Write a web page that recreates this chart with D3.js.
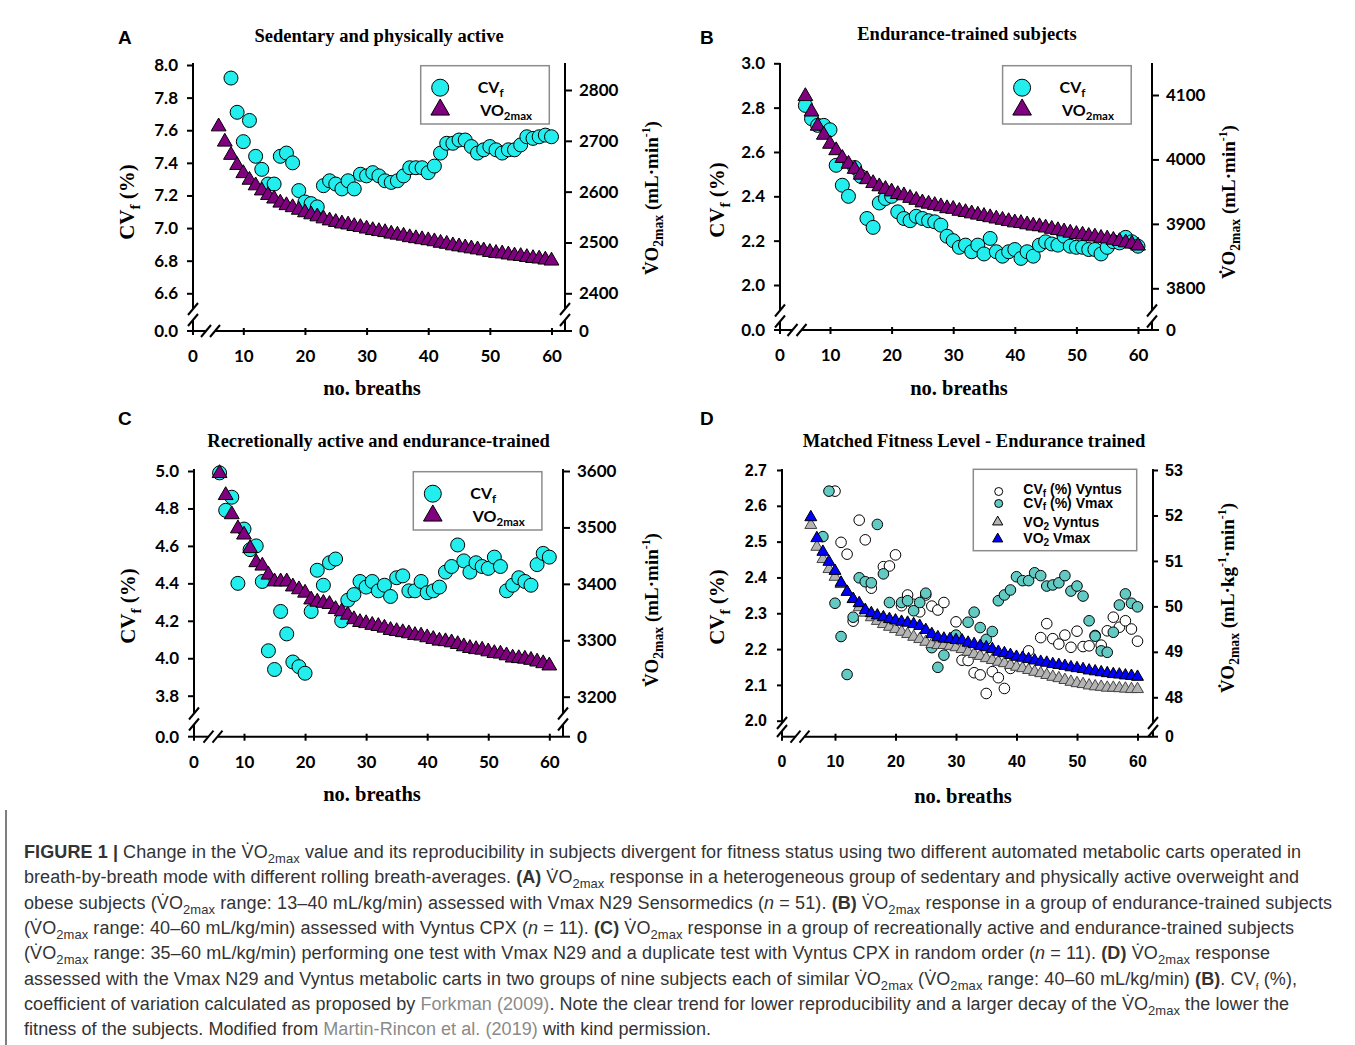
<!DOCTYPE html>
<html><head><meta charset="utf-8">
<script src="https://cdn.jsdelivr.net/npm/d3@7/dist/d3.min.js"></script>
<style>body{margin:0;background:#fff}svg{display:block}</style>
</head><body>
<svg id="fig" width="1355" height="1045"></svg>
<script>
// ---------------- DATA ----------------
const breaths6 = d3.range(6, 61);   // breath number 6..60
const breaths8 = d3.range(8, 61);   // breath number 8..60
const xTickValues = [10, 20, 30, 40, 50, 60];

// Panel A
const cvA = [7.92,7.71,7.53,7.66,7.44,7.36,7.27,7.27,7.44,7.46,7.40,7.23,7.16,7.15,7.13,7.26,7.29,7.27,7.24,7.29,
  7.24,7.33,7.32,7.34,7.32,7.29,7.28,7.29,7.32,7.37,7.37,7.37,7.34,7.38,7.46,7.52,7.52,7.54,7.54,7.50,
  7.46,7.48,7.50,7.48,7.46,7.48,7.48,7.51,7.56,7.55,7.56,7.57,7.56];            // breaths 8..60
const vo2A = [2728,2698,2672,2652,2636,2623,2612,2602,2593,2586,2578,2573,2569,2564,2559,2555,2551,2547,2543,2540,
  2537,2535,2532,2530,2527,2524,2522,2520,2517,2515,2513,2510,2508,2506,2504,2502,2499,2497,2494,2492,
  2490,2488,2486,2484,2481,2479,2478,2476,2474,2473,2471,2469,2468,2466,2464];  // breaths 6..60
const ticksA_left = [6.6,6.8,7.0,7.2,7.4,7.6,7.8,8.0];
const ticksA_right = [2400,2500,2600,2700,2800];

// Panel B
const cvB = [2.81,2.75,2.72,2.72,2.70,2.54,2.45,2.40,2.53,2.49,2.30,2.26,2.37,2.39,2.40,2.33,2.30,2.29,2.31,2.30,
  2.29,2.285,2.27,2.22,2.20,2.17,2.18,2.15,2.18,2.14,2.21,2.15,2.13,2.15,2.16,2.12,2.15,2.13,2.18,2.195,
  2.185,2.18,2.22,2.175,2.17,2.17,2.16,2.16,2.14,2.17,2.195,2.19,2.215,2.195,2.175]; // breaths 6..60
const vo2B = [4098,4074,4052,4038,4024,4014,4002,3993,3985,3976,3969,3963,3958,3954,3950,3946,3944,3940,3937,3933,
  3931,3929,3927,3924,3923,3920,3918,3916,3914,3912,3910,3908,3906,3904,3902,3901,3899,3897,3896,3894,
  3892,3890,3888,3886,3884,3883,3881,3880,3878,3877,3875,3873,3871,3869,3866];   // breaths 6..60
const ticksB_left = [2.0,2.2,2.4,2.6,2.8,3.0];
const ticksB_right = [3800,3900,4000,4100];

// Panel C
const cvC = [4.99,4.79,4.86,4.40,4.69,4.58,4.60,4.41,4.04,3.94,4.25,4.13,3.98,3.955,3.92,4.25,4.47,4.39,4.51,4.53,
  4.20,4.31,4.34,4.41,4.38,4.41,4.36,4.39,4.33,4.43,4.44,4.36,4.36,4.41,4.35,4.36,4.38,4.46,4.49,4.605,
  4.52,4.46,4.51,4.49,4.48,4.54,4.49,4.36,4.39,4.43,4.41,4.39,4.50,4.56,4.54];   // breaths 6..60
const vo2C = [3596,3557,3523,3498,3487,3463,3438,3432,3416,3404,3404,3404,3395,3390,3384,3372,3368,3366,3364,3355,
  3351,3345,3337,3332,3330,3327,3325,3322,3318,3316,3314,3312,3309,3308,3305,3302,3299,3298,3296,3293,
  3289,3286,3284,3283,3280,3277,3276,3273,3269,3268,3267,3265,3262,3259,3255];   // breaths 6..60
const ticksC_left = [3.8,4.0,4.2,4.4,4.6,4.8,5.0];
const ticksC_right = [3200,3300,3400,3500,3600];

// Panel D
const cvD_vyntus = [null,null,2.641,2.498,2.465,2.278,2.560,2.505,2.370,null,2.430,2.432,2.463,2.321,2.351,2.325,2.304,2.351,2.320,2.309,
  2.330,null,2.276,2.169,2.168,2.134,2.128,2.076,2.137,2.120,2.090,2.146,null,null,2.195,null,2.232,2.271,2.229,2.214,
  2.239,2.205,2.250,2.207,2.209,2.238,2.211,2.251,2.289,2.261,2.279,2.256,2.222];   // breaths 8..60
const cvD_vmax = [2.514,2.641,2.328,2.235,2.129,2.289,2.399,2.388,2.385,2.548,2.410,2.330,null,2.330,2.335,2.307,2.330,2.356,2.204,2.149,
  2.183,null,2.239,null,2.275,2.303,2.260,2.227,2.249,2.335,2.351,2.365,2.402,2.391,2.391,2.413,2.405,2.376,2.379,2.385,
  2.405,2.362,2.376,2.348,2.279,2.236,2.195,2.191,2.247,2.323,2.354,2.328,2.318];   // breaths 8..60
const vo2D_vyntus = [51.79,51.31,51.04,50.82,50.65,50.49,50.32,50.16,49.98,49.86,49.76,49.68,49.61,49.55,49.50,49.44,49.39,49.33,49.28,49.22,
  49.17,49.15,49.15,49.13,49.10,49.06,49.00,48.95,48.91,48.86,48.82,48.78,48.75,48.71,48.67,48.64,48.60,48.56,48.53,48.49,
  48.45,48.42,48.38,48.34,48.31,48.29,48.26,48.24,48.23,48.21,48.21,48.20,48.19,48.18,48.18]; // breaths 6..60
const vo2D_vmax = [51.96,51.50,51.20,50.98,50.78,50.52,50.32,50.16,50.07,49.92,49.85,49.80,49.76,49.72,49.69,49.66,49.64,49.61,49.57,49.48,
  49.39,49.32,49.29,49.28,49.26,49.25,49.20,49.17,49.13,49.10,49.06,49.00,48.97,48.93,48.89,48.87,48.84,48.81,48.78,48.76,
  48.73,48.71,48.69,48.66,48.64,48.62,48.59,48.57,48.55,48.53,48.51,48.50,48.48,48.47,48.45]; // breaths 6..60
const ticksD_left = [2.0,2.1,2.2,2.3,2.4,2.5,2.6,2.7];
const ticksD_right = [48,49,50,51,52,53];

// Titles / text
const panelLetters = ['A','B','C','D'];
const panelTitles = ['Sedentary and physically active','Endurance-trained subjects',
  'Recretionally active and endurance-trained','Matched Fitness Level - Endurance trained'];

// ---------------- DRAWING ----------------
const svg = d3.select('#fig');
svg.append('rect').attr('width',1355).attr('height',1045).attr('fill','#fff');

const SERIF = "'Liberation Serif','Times New Roman',serif";
const SANS = "'Liberation Sans',Arial,sans-serif";
const CALI = "Lato,'Open Sans',sans-serif";
const CYAN = '#22eeee', PURPLE = '#800080', TEAL = '#62c9c3', GRAY = '#b4b4b4', BLUE = '#0000ff';

function rich(t, parts, size) {
  let off = 0;
  parts.forEach(p => {
    const ts = t.append('tspan').text(p.t);
    let target = 0, s = size;
    if (p.sub) { target = size * (p.subShift || 0.28); s = size * (p.scale || 0.72); }
    if (p.sup) { target = -size * 0.42; s = size * 0.62; }
    ts.attr('dy', (target - off).toFixed(2)).attr('font-size', s);
    off = target;
    if (p.b) ts.attr('font-weight', 'bold');
    if (p.i) ts.attr('font-style', 'italic');
    if (p.fill) ts.attr('fill', p.fill);
  });
}

function pairs(xs, ys) { return xs.map((b, i) => [b, ys[i]]).filter(d => d[1] != null); }

function drawPanel(c) {
  const g = svg.append('g');
  const x = d3.scaleLinear().domain([10, 60]).range([c.x10, c.x60]);
  const yL = d3.scaleLinear().domain(c.lDom).range(c.lRng);
  const yR = d3.scaleLinear().domain(c.rDom).range(c.rRng);
  const tickFont = c.tickFont, tfs = c.tickSize;
  const styleAxis = ax => {
    ax.select('.domain').remove();
    ax.attr('font-family', tickFont).attr('font-size', tfs).attr('font-weight', 'bold');
    ax.selectAll('.tick text').attr('fill', '#000');
    ax.selectAll('.tick line').attr('stroke', '#000').attr('stroke-width', 2);
  };
  const axL = g.append('g').attr('transform', `translate(${c.L},0)`)
    .call(d3.axisLeft(yL).tickValues(c.lTicks).tickFormat(d3.format('.1f')).tickSize(c.tkL).tickPadding(c.padL));
  styleAxis(axL);
  const axR = g.append('g').attr('transform', `translate(${c.R},0)`)
    .call(d3.axisRight(yR).tickValues(c.rTicks).tickFormat(d3.format('d')).tickSize(c.tkR).tickPadding(c.padR));
  styleAxis(axR);
  const axX = g.append('g').attr('transform', `translate(0,${c.B})`)
    .call(d3.axisBottom(x).tickValues(xTickValues).tickFormat(d3.format('d')).tickSize(4).tickPadding(c.padX));
  styleAxis(axX);
  axX.selectAll('.tick line').attr('y1', -3).attr('y2', 4);

  // zero labels at broken origin
  const zt = (tx, ty, txt, anchor, dy) => g.append('text').attr('x', tx).attr('y', ty).attr('dy', dy)
    .attr('text-anchor', anchor).attr('font-family', tickFont).attr('font-size', tfs).attr('font-weight', 'bold').text(txt);
  const ln = (x1, y1, x2, y2) => g.append('line').attr('x1', x1).attr('y1', y1).attr('x2', x2).attr('y2', y2)
    .attr('stroke', '#000').attr('stroke-width', 2);
  if (c.leftZero) { zt(c.L - c.tkL - c.padL, c.B, '0.0', 'end', '0.35em'); ln(c.L - c.tkL, c.B, c.L, c.B); }
  zt(c.R + c.tkR + c.padR, c.B, '0', 'start', '0.35em');
  zt(c.L, c.B + 4 + c.padX, '0', 'middle', '0.71em');
  ln(c.R, c.B, c.R + c.tkR, c.B);
  ln(c.L, c.B, c.L, c.B + 4);

  const slash = (cx, cy) => ln(cx - 5, cy + 6, cx + 5, cy - 6);
  // vertical axes with break
  [c.L, c.R].forEach(ax => {
    ln(ax, c.T, ax, c.yb - c.bg);
    ln(ax, c.yb + c.bg, ax, c.B);
    slash(ax, c.yb - c.bg); slash(ax, c.yb + c.bg);
  });
  // x axis with break
  ln(c.L, c.B, c.xb - 4.5, c.B);
  ln(c.xb + 4.5, c.B, c.R, c.B);
  slash(c.xb - 4.5, c.B); slash(c.xb + 4.5, c.B);

  // series
  c.series.forEach(s => {
    const d = pairs(s.xs, s.ys);
    const yS = s.axis === 'L' ? yL : yR;
    if (s.shape === 'circle') {
      g.append('g').selectAll('circle').data(d).join('circle')
        .attr('cx', p => x(p[0])).attr('cy', p => yS(p[1])).attr('r', s.r)
        .attr('fill', s.fill).attr('stroke', '#000').attr('stroke-width', 1);
    } else {
      const sym = d3.symbol().type(d3.symbolTriangle).size(s.size);
      g.append('g').selectAll('path').data(d).join('path')
        .attr('transform', p => `translate(${x(p[0])},${yS(p[1])})`).attr('d', sym)
        .attr('fill', s.fill).attr('stroke', s.stroke || '#000').attr('stroke-width', 1);
    }
  });

  // legend
  const lg = c.legend;
  g.append('rect').attr('x', lg.x).attr('y', lg.y).attr('width', lg.w).attr('height', lg.h)
    .attr('fill', '#fff').attr('stroke', '#8c8c8c').attr('stroke-width', 1.5);
  lg.items.forEach(it => {
    if (it.shape === 'circle') {
      g.append('circle').attr('cx', it.mx).attr('cy', it.my).attr('r', it.r).attr('fill', it.fill)
        .attr('stroke', '#000').attr('stroke-width', 1);
    } else {
      g.append('path').attr('transform', `translate(${it.mx},${it.my})`)
        .attr('d', d3.symbol().type(d3.symbolTriangle).size(it.size)).attr('fill', it.fill)
        .attr('stroke', '#000').attr('stroke-width', 1);
    }
    const t = g.append('text').attr('x', it.tx).attr('y', it.ty).attr('font-family', lg.font)
      .attr('font-weight', 'bold').attr('font-size', lg.fs);
    rich(t, it.parts, lg.fs);
  });

  // texts
  g.append('text').attr('x', c.letter[0]).attr('y', c.letter[1]).attr('font-family', SANS)
    .attr('font-weight', 'bold').attr('font-size', 19).text(c.letterText);
  g.append('text').attr('x', c.title[0]).attr('y', c.title[1]).attr('text-anchor', 'middle')
    .attr('font-family', SERIF).attr('font-weight', 'bold').attr('font-size', 18.5).text(c.titleText);
  g.append('text').attr('x', c.xlab[0]).attr('y', c.xlab[1]).attr('text-anchor', 'middle')
    .attr('font-family', SERIF).attr('font-weight', 'bold').attr('font-size', 20.5).text('no. breaths');
  const yl = g.append('text').attr('transform', `translate(${c.ylab[0]},${c.ylab[1]}) rotate(-90)`)
    .attr('y', 7).attr('text-anchor', 'middle').attr('font-family', SERIF).attr('font-weight', 'bold').attr('font-size', 21);
  rich(yl, [{t: 'CV'}, {t: 'f', sub: true}, {t: ' (%)'}], 21);
  const yr = g.append('text').attr('transform', `translate(${c.rlab[0]},${c.rlab[1]}) rotate(-90)`)
    .attr('y', 7).attr('text-anchor', 'middle').attr('font-family', SERIF).attr('font-weight', 'bold').attr('font-size', 19);
  rich(yr, c.rlabParts, 19);
}

const rlabMin = [{t: 'V\u0307O'}, {t: '2max', sub: true}, {t: ' (mL\u00b7min'}, {t: '-1', sup: true}, {t: ')'}];
const rlabKg = [{t: 'V\u0307O'}, {t: '2max', sub: true}, {t: ' (mL\u00b7kg'}, {t: '-1', sup: true}, {t: '\u00b7min'}, {t: '-1', sup: true}, {t: ')'}];

function legendABC(x0, y0) {
  return { x: x0, y: y0, w: 128.6, h: 58.3, font: CALI, fs: 16, items: [
    { shape: 'circle', mx: x0 + 19.5, my: y0 + 22, r: 8.5, fill: CYAN, tx: x0 + 57, ty: y0 + 27,
      parts: [{t: 'CV'}, {t: 'f', sub: true}] },
    { shape: 'tri', mx: x0 + 19.5, my: y0 + 44, size: 150, fill: PURPLE, tx: x0 + 59.5, ty: y0 + 50,
      parts: [{t: 'VO'}, {t: '2max', sub: true}] }
  ]};
}
function seriesABC(cv, cvX, vo2) {
  return [
    { shape: 'circle', xs: cvX, ys: cv, axis: 'L', r: 7, fill: CYAN },
    { shape: 'tri', xs: breaths6, ys: vo2, axis: 'R', size: 95, fill: PURPLE }
  ];
}

drawPanel({ L: 193, R: 565, T: 63, B: 331, x10: 243.3, x60: 551.5,
  lDom: [6.6, 8.0], lRng: [293.3, 65], rDom: [2400, 2800], rRng: [293.3, 90],
  lTicks: ticksA_left, rTicks: ticksA_right, yb: 314.5, bg: 5.5, xb: 210.5, leftZero: true,
  tkL: 6, padL: 9, tkR: 7, padR: 7, padX: 15, tickFont: CALI, tickSize: 17,
  series: seriesABC(cvA, breaths8, vo2A), legend: legendABC(420.7, 65.7),
  letter: [118, 44], letterText: panelLetters[0], title: [379, 42], titleText: panelTitles[0],
  xlab: [372, 395], ylab: [127, 202], rlab: [651, 198], rlabParts: rlabMin });

drawPanel({ L: 780, R: 1152, T: 63, B: 330, x10: 830, x60: 1138,
  lDom: [2.0, 3.0], lRng: [285, 63.3], rDom: [3800, 4100], rRng: [288.3, 95],
  lTicks: ticksB_left, rTicks: ticksB_right, yb: 316, bg: 5.5, xb: 797, leftZero: true,
  tkL: 6, padL: 9, tkR: 7, padR: 7, padX: 15, tickFont: CALI, tickSize: 17,
  series: seriesABC(cvB, breaths6, vo2B), legend: legendABC(1002.6, 65.7),
  letter: [700, 44], letterText: panelLetters[1], title: [967, 40], titleText: panelTitles[1],
  xlab: [959, 395], ylab: [717, 200], rlab: [1228, 202], rlabParts: rlabMin });

drawPanel({ L: 194, R: 563, T: 469, B: 736.7, x10: 244, x60: 549.3,
  lDom: [3.8, 5.0], lRng: [695.7, 471], rDom: [3200, 3600], rRng: [696.7, 471],
  lTicks: ticksC_left, rTicks: ticksC_right, yb: 719, bg: 5.5, xb: 213, leftZero: true,
  tkL: 6, padL: 9, tkR: 7, padR: 7, padX: 15, tickFont: CALI, tickSize: 17,
  series: seriesABC(cvC, breaths6, vo2C), legend: legendABC(413.3, 471.7),
  letter: [118, 425], letterText: panelLetters[2], title: [378.5, 447], titleText: panelTitles[2],
  xlab: [372, 801], ylab: [128, 606], rlab: [651, 610], rlabParts: rlabMin });

drawPanel({ L: 782, R: 1153, T: 469, B: 736.7, x10: 835, x60: 1137.5,
  lDom: [2.0, 2.7], lRng: [720.7, 470], rDom: [48, 53], rRng: [697.3, 470],
  lTicks: ticksD_left, rTicks: ticksD_right, yb: 727, bg: 4, xb: 800, leftZero: false,
  tkL: 5, padL: 10, tkR: 5, padR: 7, padX: 15, tickFont: SANS, tickSize: 16,
  series: [
    { shape: 'circle', xs: breaths8, ys: cvD_vyntus, axis: 'L', r: 5.3, fill: '#ffffff' },
    { shape: 'circle', xs: breaths8, ys: cvD_vmax, axis: 'L', r: 5.3, fill: TEAL },
    { shape: 'tri', xs: breaths6, ys: vo2D_vyntus, axis: 'R', size: 62, fill: GRAY, stroke: '#444' },
    { shape: 'tri', xs: breaths6, ys: vo2D_vmax, axis: 'R', size: 62, fill: BLUE, stroke: '#000' }
  ],
  legend: { x: 973.3, y: 469.3, w: 163.4, h: 81.4, font: SANS, fs: 14, items: [
    { shape: 'circle', mx: 998.7, my: 491.5, r: 4, fill: '#fff', tx: 1023.3, ty: 494,
      parts: [{t: 'CV'}, {t: 'f', sub: true, subShift: 0.2}, {t: ' (%) Vyntus'}] },
    { shape: 'circle', mx: 998.7, my: 503.5, r: 4, fill: TEAL, tx: 1023.3, ty: 507.5,
      parts: [{t: 'CV'}, {t: 'f', sub: true, subShift: 0.2}, {t: ' (%) Vmax'}] },
    { shape: 'tri', mx: 997.7, my: 522, size: 45, fill: GRAY, tx: 1023.3, ty: 526.7,
      parts: [{t: 'VO'}, {t: '2', sub: true, subShift: 0.2}, {t: ' Vyntus'}] },
    { shape: 'tri', mx: 997.7, my: 539, size: 45, fill: BLUE, tx: 1023.3, ty: 543,
      parts: [{t: 'VO'}, {t: '2', sub: true, subShift: 0.2}, {t: ' Vmax'}] }
  ]},
  letter: [700, 425], letterText: panelLetters[3], title: [974, 447], titleText: panelTitles[3],
  xlab: [963, 803], ylab: [717, 607], rlab: [1227, 598], rlabParts: rlabKg });

// ---------------- CAPTION ----------------
const LINK = '#8a8a8a', TXT = '#333';
const V = 'V\u0307O';
const S = {t: '2max', sub: true};
const captionLines = [
  [{t: 'FIGURE 1 |', b: true}, {t: ' Change in the ' + V}, S, {t: ' value and its reproducibility in subjects divergent for fitness status using two different automated metabolic carts operated in'}],
  [{t: 'breath-by-breath mode with different rolling breath-averages. '}, {t: '(A)', b: true}, {t: ' ' + V}, S, {t: ' response in a heterogeneous group of sedentary and physically active overweight and'}],
  [{t: 'obese subjects (' + V}, S, {t: ' range: 13\u201340 mL/kg/min) assessed with Vmax N29 Sensormedics ('}, {t: 'n', i: true}, {t: ' = 51). '}, {t: '(B)', b: true}, {t: ' ' + V}, S, {t: ' response in a group of endurance-trained subjects'}],
  [{t: '(' + V}, S, {t: ' range: 40\u201360 mL/kg/min) assessed with Vyntus CPX ('}, {t: 'n', i: true}, {t: ' = 11). '}, {t: '(C)', b: true}, {t: ' ' + V}, S, {t: ' response in a group of recreationally active and endurance-trained subjects'}],
  [{t: '(' + V}, S, {t: ' range: 35\u201360 mL/kg/min) performing one test with Vmax N29 and a duplicate test with Vyntus CPX in random order ('}, {t: 'n', i: true}, {t: ' = 11). '}, {t: '(D)', b: true}, {t: ' ' + V}, S, {t: ' response'}],
  [{t: 'assessed with the Vmax N29 and Vyntus metabolic carts in two groups of nine subjects each of similar ' + V}, S, {t: ' (' + V}, S, {t: ' range: 40\u201360 mL/kg/min) '}, {t: '(B)', b: true}, {t: '. CV'}, {t: 'f', sub: true, scale: 0.55}, {t: ' (%),'}],
  [{t: 'coefficient of variation calculated as proposed by '}, {t: 'Forkman (2009)', fill: LINK}, {t: '. Note the clear trend for lower reproducibility and a larger decay of the ' + V}, S, {t: ' the lower the'}],
  [{t: 'fitness of the subjects. Modified from '}, {t: 'Martin-Rincon et al. (2019)', fill: LINK}, {t: ' with kind permission.'}]
];
const capBase = [858, 883.3, 908.6, 933.9, 959.2, 984.5, 1009.8, 1035.1];
const capWidth = [1277, 1275, 1308, 1270, 1246, 1273, 1265, 687];
captionLines.forEach((parts, i) => {
  const t = svg.append('text').attr('x', 24).attr('y', capBase[i]).attr('font-family', SANS)
    .attr('font-size', 18).attr('fill', TXT)
    .attr('textLength', capWidth[i]).attr('lengthAdjust', 'spacing');
  rich(t, parts, 18);
});
svg.append('line').attr('x1', 6).attr('y1', 810).attr('x2', 6).attr('y2', 1045)
  .attr('stroke', '#555').attr('stroke-width', 1.5);
</script>
</body></html>
